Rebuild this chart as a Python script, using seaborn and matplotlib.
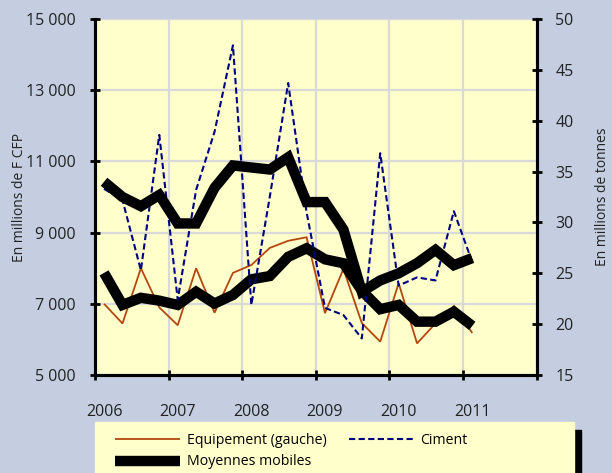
import numpy as np
import pandas as pd
import seaborn as sns
import matplotlib.pyplot as plt
from matplotlib.patches import Rectangle
from matplotlib.ticker import FuncFormatter

plt.rcParams['font.family'] = ['Open Sans', 'DejaVu Sans']

# quarterly data, 2006 T1 -> 2011 T1
quarter_year = [2006]*4 + [2007]*4 + [2008]*4 + [2009]*4 + [2010]*4 + [2011]
quarter_num = [1, 2, 3, 4]*5 + [1]
years = [2006, 2007, 2008, 2009, 2010, 2011]

equipement = [7000, 6450, 8000, 6900, 6400, 8000, 6750, 7870, 8090, 8570, 8770,
              8870, 6740, 7980, 6460, 5940, 7580, 5890, 6450, 6940, 6180]
ciment = [33.3, 32.2, 25.3, 38.6, 22.4, 33.2, 38.9, 47.4, 21.9, 32.5, 43.7,
          31.0, 21.6, 20.9, 18.6, 36.8, 23.8, 24.6, 24.3, 31.1, 26.1]
mm_equipement = [7870, 6970, 7170, 7090, 6970, 7340, 7010, 7250, 7690, 7780, 8320,
                 8560, 8250, 8140, 7370, 6850, 6970, 6500, 6500, 6780, 6380]
mm_ciment = [34.0, 32.5, 31.6, 32.7, 29.9, 29.9, 33.4, 35.6, 35.4, 35.2, 36.4,
             32.0, 32.0, 29.3, 23.2, 24.3, 25.0, 26.0, 27.3, 25.8, 26.5]

df = pd.DataFrame({"annee": quarter_year, "trim": quarter_num,
                   "equipement": equipement, "ciment": ciment,
                   "mm_equipement": mm_equipement, "mm_ciment": mm_ciment})
df["x"] = df["annee"] + (df["trim"] - 0.5) / 4

bg = "#C4CEE0"
plot_bg = "#FFFFCC"
brown = "#B4470F"
navy = "#000080"

fig = plt.figure(figsize=(6.12, 4.73), dpi=100)
fig.patch.set_facecolor(bg)
ax = fig.add_axes([0.155, 0.207, 0.722, 0.753])
ax.set_facecolor(plot_bg)
ax2 = ax.twinx()

sns.lineplot(data=df, x="x", y="equipement", ax=ax, color=brown, linewidth=1.3)
sns.lineplot(data=df, x="x", y="mm_equipement", ax=ax, color="black", linewidth=7.5)
sns.lineplot(data=df, x="x", y="ciment", ax=ax2, color=navy, linewidth=1.5,
             linestyle=(0, (3, 1.6)))
sns.lineplot(data=df, x="x", y="mm_ciment", ax=ax2, color="black", linewidth=7.5)
for l in ax.lines + ax2.lines:
    l.set_solid_capstyle("butt")
    l.set_solid_joinstyle("miter")

ax.set_xlim(2006, 2012)
ax.set_ylim(5000, 15000)
ax2.set_ylim(15, 50)

ax.set_xticks(range(2006, 2013))
ax.set_xticklabels([])
ax.set_xticks([y + 0.125 for y in years], [str(y) for y in years], minor=True)
ax.set_yticks(range(5000, 15001, 2000))
ax.yaxis.set_major_formatter(FuncFormatter(lambda v, p: f"{v:,.0f}".replace(",", " ")))
ax2.set_yticks(range(15, 51, 5))

ax.grid(True, color="#D9D9D9", linewidth=1.6)
ax.set_axisbelow(True)

for a in (ax, ax2):
    for s in a.spines.values():
        s.set_linewidth(2.2)
        s.set_color("black")
    a.spines["top"].set_visible(False)

ax.tick_params(axis="both", which="major", direction="inout", length=7, width=2,
               labelsize=11.5, colors="black", labelcolor="#222222", pad=10)
ax.tick_params(axis="x", which="minor", length=0, pad=21, labelsize=11.5,
               labelcolor="#222222")
ax2.tick_params(axis="y", direction="inout", length=7, width=2, labelsize=11.5,
                labelcolor="#222222", pad=10)

ax.set_xlabel("")
ax.set_ylabel("En millions de F CFP", fontsize=10, color="#222222")
ax2.set_ylabel("En millions de tonnes", fontsize=10, color="#222222")
ax.yaxis.set_label_coords(-0.153, 0.5)
ax2.yaxis.set_label_coords(1.131, 0.5)

# legend box with its shadow
fig.patches.append(Rectangle((0.155 + 7/612, -0.1), 0.783, 0.1 + 0.108 - 8/473,
                             transform=fig.transFigure, color="black", zorder=0))
fig.patches.append(Rectangle((0.155, -0.1), 0.783, 0.208,
                             transform=fig.transFigure, color=plot_bg, zorder=1))

handles = [ax.lines[0], ax.lines[1], ax2.lines[0]]
labels = ["Equipement (gauche)", "Moyennes mobiles", "Ciment"]
fig.legend(handles, labels, loc="upper left", bbox_to_anchor=(108/612, 1 - 426/473),
           ncol=2, frameon=False, fontsize=10.2, handlelength=4.6, handletextpad=0.45,
           columnspacing=1.6, borderpad=0, labelspacing=0.45)

fig.savefig("out.png", dpi=100, facecolor=bg)
